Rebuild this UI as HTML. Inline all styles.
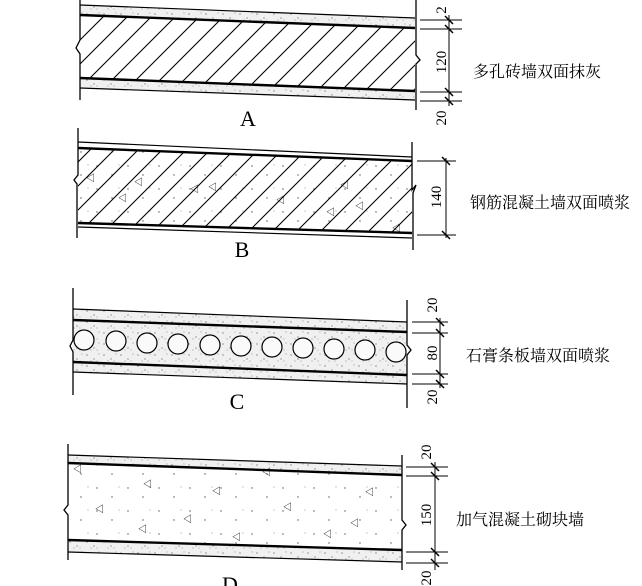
<!DOCTYPE html>
<html><head><meta charset="utf-8"><style>
html,body{margin:0;padding:0;background:#fff;}
svg{display:block;}
text{font-family:"Liberation Serif","Noto Serif CJK SC",serif;fill:#000;}
.cn{font-family:"Liberation Serif","Noto Serif CJK SC",serif;font-size:16px;}
</style></head><body>
<svg width="642" height="586" viewBox="0 0 642 586" xmlns="http://www.w3.org/2000/svg">
<defs>
<pattern id="hatch" patternUnits="userSpaceOnUse" width="24" height="24">
<path d="M-2,26 L26,-2 M-2,2 L2,-2 M22,26 L26,22" stroke="#000" stroke-width="1.1"/>
</pattern>
<pattern id="dots" patternUnits="userSpaceOnUse" width="17" height="11">
<rect width="17" height="11" fill="#f0f0f0"/>
<circle cx="2" cy="3" r="0.6" fill="#555"/><circle cx="9" cy="7" r="0.6" fill="#666"/>
<circle cx="14" cy="2" r="0.5" fill="#777"/><circle cx="6" cy="9" r="0.5" fill="#777"/>
<circle cx="12" cy="9" r="0.5" fill="#888"/>
</pattern>
<pattern id="sparse" patternUnits="userSpaceOnUse" width="31" height="23">
<circle cx="4" cy="5" r="0.7" fill="#555"/><circle cx="19" cy="14" r="0.7" fill="#555"/>
<circle cx="26" cy="4" r="0.5" fill="#777"/>
</pattern>
</defs>
<g stroke="#000" fill="none">
<!-- A -->
<polygon points="80,5 415,18 415,28 80,15" fill="url(#dots)" stroke="none"/>
<polygon points="80,78 415,91 415,101 80,88" fill="url(#dots)" stroke="none"/>
<polygon points="80,15 415,28 415,91 80,78" fill="url(#hatch)" stroke="none"/>
<line x1="80" y1="5" x2="415" y2="18" stroke-width="1.2"/>
<line x1="80" y1="15" x2="415" y2="28" stroke-width="2.4"/>
<line x1="80" y1="78" x2="415" y2="91" stroke-width="2.4"/>
<line x1="80" y1="88" x2="415" y2="100" stroke-width="1.2"/>
<path d="M80,0 V40 l-4,8 4,6 V100" stroke-width="1.3"/>
<path d="M416,0 V55 l4,5 -4,4 V110" stroke-width="1.3"/>
<path d="M420,20 H462 M420,29 H462 M420,92 H462 M420,101 H462 M449,15 V106" stroke-width="1"/>
<path d="M445,16 l8,8 M445,25 l8,8 M445,88 l8,8 M445,97 l8,8" stroke-width="1.5"/>
<!-- B -->
<polygon points="78,148 412,161 412,233 78,223" fill="url(#sparse)" stroke="none"/>
<polygon points="78,148 412,161 412,233 78,223" fill="url(#hatch)" stroke="none"/>
<line x1="78" y1="142" x2="412" y2="157" stroke-width="1.2"/>
<line x1="78" y1="148" x2="412" y2="161" stroke-width="2.4"/>
<line x1="78" y1="223" x2="412" y2="233" stroke-width="2.4"/>
<line x1="78" y1="227" x2="412" y2="238" stroke-width="1.2"/>
<path d="M78,128 V175 l-4,5 3,4 V238" stroke-width="1.3"/>
<path d="M412,142 V190 l4,-5 -3,8 V250" stroke-width="1.3"/>
<path d="M417,161 H456 M417,235 H456 M446,158 V238" stroke-width="1"/>
<path d="M442,157 l8,8 M442,231 l8,8" stroke-width="1.5"/>
<!-- C -->
<polygon points="73,309 407,322 407,384 73,372" fill="url(#dots)" stroke="none"/>
<line x1="73" y1="309" x2="407" y2="322" stroke-width="1.2"/>
<line x1="73" y1="320" x2="407" y2="332" stroke-width="2.4"/>
<line x1="73" y1="362" x2="407" y2="375" stroke-width="2.4"/>
<line x1="73" y1="372" x2="407" y2="384" stroke-width="1.2"/>
<path d="M73,288 V340 l-3,6 3,6 V395" stroke-width="1.3"/>
<path d="M407,300 V345 l4,5 -4,5 V408" stroke-width="1.3"/>
<g stroke-width="1.2" fill="#fafafa">
<circle cx="84" cy="340" r="10"/><circle cx="116" cy="341" r="10"/><circle cx="147" cy="343" r="10"/>
<circle cx="178" cy="344" r="10"/><circle cx="210" cy="345" r="10"/><circle cx="241" cy="346" r="10"/>
<circle cx="272" cy="347" r="10"/><circle cx="303" cy="348" r="10"/><circle cx="334" cy="349" r="10"/>
<circle cx="365" cy="350" r="10"/><circle cx="396" cy="352" r="10"/>
</g>
<path d="M412,322 H448 M412,333 H448 M412,374 H448 M412,384 H448 M440,318 V388" stroke-width="1"/>
<path d="M436,318 l8,8 M436,329 l8,8 M436,370 l8,8 M436,380 l8,8" stroke-width="1.5"/>
<!-- D -->
<polygon points="68,455 402,466 402,562 68,552" fill="url(#dots)" stroke="none"/>
<polygon points="68,463 402,475 402,550 68,540" fill="#fff" stroke="none"/>
<polygon points="68,463 402,475 402,550 68,540" fill="url(#sparse)" stroke="none"/>
<line x1="68" y1="455" x2="402" y2="466" stroke-width="1.2"/>
<line x1="68" y1="463" x2="402" y2="475" stroke-width="2.4"/>
<line x1="68" y1="540" x2="402" y2="550" stroke-width="2.4"/>
<line x1="68" y1="552" x2="402" y2="562" stroke-width="1.2"/>
<path d="M68,444 V505 l-4,5 4,5 V560" stroke-width="1.3"/>
<path d="M402,455 V520 l4,5 -4,5 V570" stroke-width="1.3"/>
<path d="M406,467 H448 M406,476 H448 M406,552 H448 M406,563 H448 M435,462 V570" stroke-width="1"/>
<path d="M431,463 l8,8 M431,472 l8,8 M431,548 l8,8 M431,559 l8,8" stroke-width="1.5"/>
</g>
<g font-size="9" fill="#000">
<text x="86" y="181">◁</text><text x="134" y="185">◁</text>
<text x="190" y="192">◁</text><text x="208" y="190">◁</text>
<text x="340" y="188">◁</text><text x="276" y="203">◁</text>
<text x="326" y="215">◁</text><text x="355" y="209">◁</text>
<text x="392" y="231">◁</text><text x="118" y="201">◁</text>
<text x="73" y="472">◁</text><text x="143" y="487">◁</text>
<text x="212" y="494">◁</text><text x="95" y="512">◁</text>
<text x="183" y="522">◁</text><text x="283" y="510">◁</text>
<text x="350" y="526">◁</text><text x="138" y="532">◁</text>
<text x="232" y="540">◁</text><text x="323" y="537">◁</text>
<text x="262" y="475">◁</text><text x="365" y="495">◁</text>
</g>
<g font-size="15">
<text transform="translate(446,10) rotate(-90)" text-anchor="middle">2</text>
<text transform="translate(446,62) rotate(-90)" text-anchor="middle">120</text>
<text transform="translate(446,118) rotate(-90)" text-anchor="middle">20</text>
<text transform="translate(441,197) rotate(-90)" text-anchor="middle">140</text>
<text transform="translate(437,305) rotate(-90)" text-anchor="middle">20</text>
<text transform="translate(437,353) rotate(-90)" text-anchor="middle">80</text>
<text transform="translate(437,397) rotate(-90)" text-anchor="middle">20</text>
<text transform="translate(431,452) rotate(-90)" text-anchor="middle">20</text>
<text transform="translate(431,515) rotate(-90)" text-anchor="middle">150</text>
<text transform="translate(431,578) rotate(-90)" text-anchor="middle">20</text>
</g>
<g font-size="22">
<text x="248" y="126" text-anchor="middle">A</text>
<text x="242" y="257" text-anchor="middle">B</text>
<text x="237" y="409" text-anchor="middle">C</text>
<text x="230" y="592" text-anchor="middle">D</text>
</g>
<text class="cn" x="473" y="77">多孔砖墙双面抹灰</text>
<text class="cn" x="470" y="208">钢筋混凝土墙双面喷浆</text>
<text class="cn" x="466" y="361">石膏条板墙双面喷浆</text>
<text class="cn" x="456" y="525">加气混凝土砌块墙</text>
</svg>
</body></html>
